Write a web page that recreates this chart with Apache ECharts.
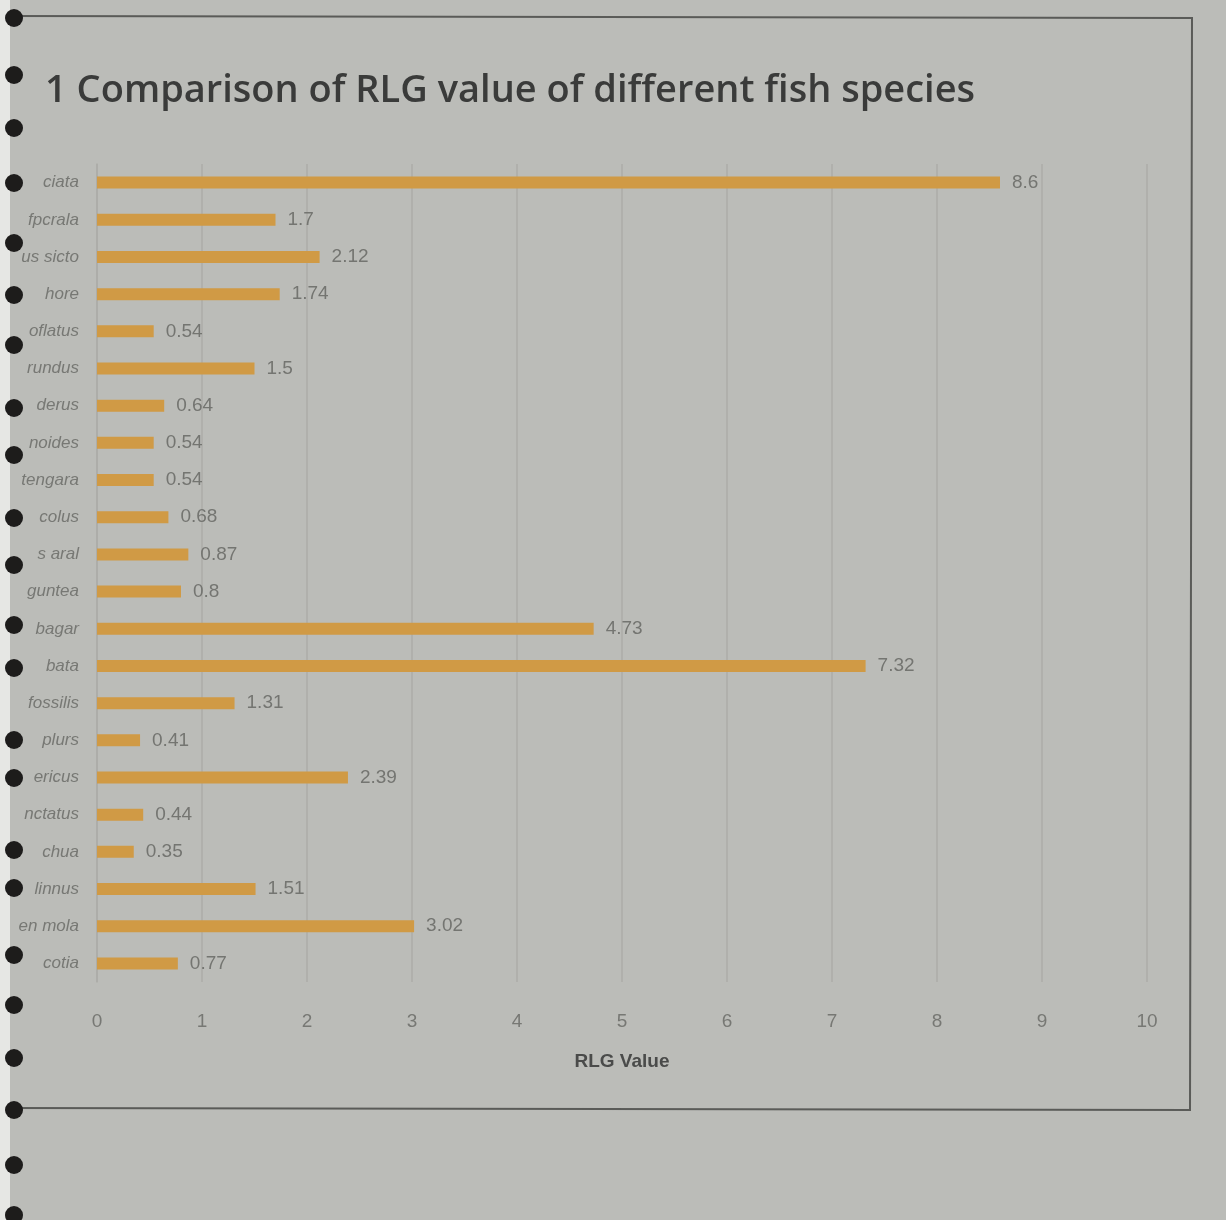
<!DOCTYPE html>
<html>
<head>
<meta charset="utf-8">
<title>RLG value of different fish species</title>
<script src="https://cdn.jsdelivr.net/npm/echarts@6/dist/echarts.min.js"></script>
<style>
  html, body { margin: 0; padding: 0; background: #bbbcb8; }
  #chart { width: 1226px; height: 1220px; }
</style>
</head>
<body>
<div id="chart"></div>
<script>
// Species (as printed, truncated at the page edge), top to bottom
const species = [
  'ciata', 'fpcrala', 'us sicto', 'hore', 'oflatus', 'rundus',
  'derus', 'noides', 'tengara', 'colus', 's aral', 'guntea',
  'bagar', 'bata', 'fossilis', 'plurs', 'ericus', 'nctatus',
  'chua', 'linnus', 'en mola', 'cotia'
];
// RLG value for each species, same order
const rlgValues = [
  8.6, 1.7, 2.12, 1.74, 0.54, 1.5,
  0.64, 0.54, 0.54, 0.68, 0.87, 0.8,
  4.73, 7.32, 1.31, 0.41, 2.39, 0.44,
  0.35, 1.51, 3.02, 0.77
];
const xTicks = [0, 10, 1];   // min, max, interval

// binder holes along the left margin
const holeY = [18, 75, 128, 183, 243, 295, 345, 408, 455, 518, 565, 625, 668,
               740, 778, 850, 888, 955, 1005, 1058, 1110, 1165, 1215];

const chart = echarts.init(document.getElementById('chart'));

const graphics = [
  // white paper edge on the left
  { type: 'rect', shape: { x: 0, y: 0, width: 10, height: 1220 },
    style: { fill: '#e6e7e4' }, z: -1 },
  // chart frame (top, right, bottom)
  { type: 'polyline', shape: { points: [[10, 16], [1192, 18], [1190, 1110], [10, 1108]] },
    style: { stroke: '#5a5b58', lineWidth: 2, fill: null }, z: 0 },
  { type: 'text', left: 45, top: 72,
    style: { text: '1 Comparison of RLG value of different fish species',
      font: '600 38px "Open Sans", "Noto Sans", sans-serif', fill: '#3a3b3a' } }
];
holeY.forEach(y => graphics.push({
  type: 'circle', shape: { cx: 14, cy: y, r: 9 },
  style: { fill: '#1d1c1b' }, z: 10
}));

chart.setOption({
  backgroundColor: '#bbbcb8',
  animation: false,
  graphic: graphics,
  grid: { left: 97, right: 79, top: 164, bottom: 238, containLabel: false },
  xAxis: {
    type: 'value', min: xTicks[0], max: xTicks[1], interval: xTicks[2],
    name: 'RLG Value', nameLocation: 'middle', nameGap: 70,
    nameTextStyle: { fontFamily: '"Liberation Sans Narrow", "Liberation Sans", sans-serif',
      fontWeight: 'bold', fontSize: 19, color: '#4a4b4a' },
    axisLine: { show: false },
    axisTick: { show: false },
    axisLabel: { margin: 30, fontSize: 19, color: '#777874',
      fontFamily: '"Liberation Sans Narrow", "Liberation Sans", sans-serif' },
    splitLine: { show: true, lineStyle: { color: '#acada9', width: 1.5 } }
  },
  yAxis: {
    type: 'category', data: species, inverse: true,
    axisLine: { show: true, lineStyle: { color: '#acada9', width: 1.5 } },
    axisTick: { show: false },
    axisLabel: { margin: 18, fontSize: 17, fontStyle: 'italic', color: '#777874',
      fontFamily: '"Liberation Sans Narrow", "Liberation Sans", sans-serif' }
  },
  series: [{
    type: 'bar', data: rlgValues, barWidth: 12,
    itemStyle: { color: '#d09a45' },
    label: { show: true, position: 'right', distance: 12, fontSize: 19,
      color: '#747571',
      fontFamily: '"Liberation Sans Narrow", "Liberation Sans", sans-serif' }
  }]
});
</script>
</body>
</html>
